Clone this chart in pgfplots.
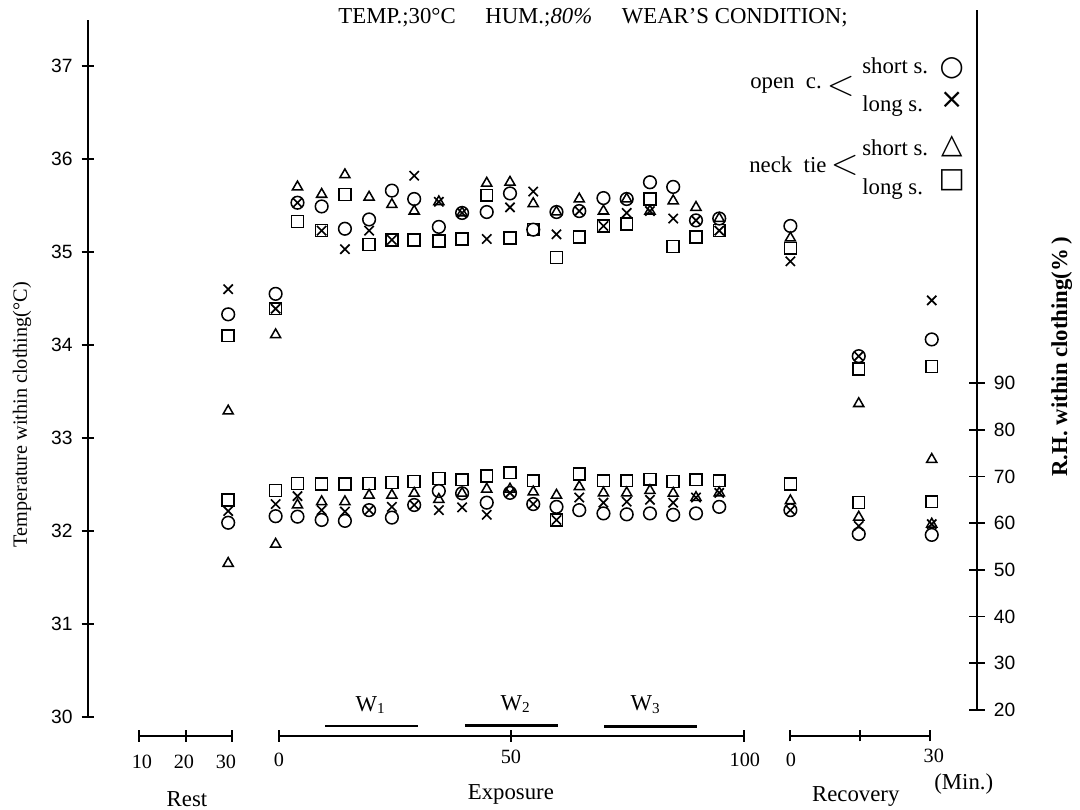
\documentclass[border=0pt]{standalone}
\usepackage{fontspec}
\setmainfont{Liberation Serif}
\newfontfamily\numfont{Liberation Sans}
\newfontfamily\symfont{DejaVu Sans}
\usepackage{pgfplots}
\usepackage{pgfplotstable}
\pgfplotsset{compat=1.18}

% Temperature within clothing (deg C): os=open c. short s., ol=open c. long s., ns=neck tie short s., nl=neck tie long s.
% x: rest minutes -40, exposure minutes, recovery minutes +110
\pgfplotstableread{
x     os     ol     ns     nl
-10.9 34.33  34.60  33.29  34.10
-0.7  34.55  34.39  34.11  34.39
4.0   35.53  35.53  35.70  35.33
9.2   35.49  35.23  35.62  35.23
14.2  35.25  35.03  35.83  35.62
19.4  35.35  35.23  35.59  35.08
24.3  35.66  35.13  35.51  35.13
29.1  35.57  35.82  35.44  35.13
34.4  35.27  35.54  35.54  35.12
39.4  35.42  35.42  35.42  35.14
44.7  35.43  35.14  35.74  35.61
49.7  35.63  35.48  35.75  35.15
54.7  35.24  35.65  35.52  35.24
59.7  35.43  35.19  35.43  34.94
64.6  35.44  35.44  35.57  35.16
69.8  35.58  35.28  35.44  35.28
74.8  35.57  35.42  35.57  35.30
79.8  35.75  35.44  35.44  35.57
84.8  35.70  35.36  35.55  35.06
89.7  35.34  35.34  35.48  35.16
94.7  35.36  35.23  35.36  35.23
110.0 35.28  34.90  35.15  35.04
124.7 33.88  33.88  33.37  33.74
140.4 34.06  34.48  32.77  33.77
}\temptab

% R.H. within clothing (%)
\pgfplotstableread{
x     os    ol    ns    nl
-10.9 60.1  62.6  51.4  65.0
-0.7  61.5  64.1  55.5  67.0
4.0   61.4  65.8  63.9  68.5
9.2   60.7  62.8  64.6  68.4
14.2  60.5  62.5  64.6  68.4
19.4  62.8  62.8  66.0  68.5
24.3  61.2  63.5  66.0  68.7
29.1  63.9  63.9  66.4  68.9
34.4  66.9  62.8  65.1  69.6
39.4  66.4  63.4  66.4  69.3
44.7  64.4  61.8  67.3  70.1
49.7  66.5  66.5  67.3  70.8
54.7  64.1  64.1  66.7  69.1
59.7  63.5  60.7  66.0  60.7
64.6  62.8  65.5  67.8  70.5
69.8  62.1  64.4  66.5  69.1
74.8  61.9  64.6  66.5  69.1
79.8  62.1  65.0  67.0  69.4
84.8  61.8  64.4  66.4  68.9
89.7  62.1  65.5  65.5  69.3
94.7  63.5  66.5  66.5  69.1
110.0 62.8  62.8  64.8  68.4
124.7 57.7  59.4  61.3  64.4
140.4 57.5  59.8  59.8  64.6
}\rhtab

\pgfplotsset{
  common/.style={
    scale only axis, width=12.347cm,
    xmin=-41.05, xmax=150.13,
    axis x line=none,
    clip=false,
    tick align=center,
    /pgf/number format/assume math mode=true,
    yticklabel style={font=\numfont\fontsize{7.6}{8}\selectfont},
    axis line style={-, line width=0.9pt},
    every tick/.style={line width=0.7pt, black},
  },
  mO/.style={only marks, mark=o, mark size=2.5pt, mark options={solid, line width=0.6pt}},
  mX/.style={only marks, mark=x, mark size=2.6pt, mark options={solid, line width=0.65pt}},
  mT/.style={only marks, mark=triangle, mark size=2.3pt, mark options={solid, line width=0.6pt}},
  mS/.style={only marks, mark=square, mark size=2.35pt, mark options={solid, line width=0.6pt}},
}

\newcommand{\tfont}{\fontsize{9}{10}\selectfont}

\begin{document}
\begin{tikzpicture}
\useasboundingbox (0,0) rectangle (15cm,11.25cm);

% Left axis: temperature
\begin{axis}[common,
  at={(1.2222cm,1.2917cm)}, anchor=south west,
  height=9.6875cm,
  ymin=30, ymax=37.5,
  axis y line*=left,
  ytick={30,31,...,37},
  major tick length=0.18cm,
]
\addplot[mO] table[x=x, y=os] {\temptab};
\addplot[mX] table[x=x, y=ol] {\temptab};
\addplot[mT] table[x=x, y=ns] {\temptab};
\addplot[mS] table[x=x, y=nl] {\temptab};

% segmented time axis
\draw[line width=0.8pt] (axis cs:-30,29.796) -- (axis cs:-10,29.796);
\draw[line width=0.8pt] (axis cs:0,29.796) -- (axis cs:100,29.796);
\draw[line width=0.8pt] (axis cs:110,29.800) -- (axis cs:140,29.800);
\draw[line width=0.8pt] (axis cs:-30,29.733) -- (axis cs:-30,29.859);
\draw[line width=0.8pt] (axis cs:-20,29.733) -- (axis cs:-20,29.859);
\draw[line width=0.8pt] (axis cs:-10,29.733) -- (axis cs:-10,29.859);
\draw[line width=0.8pt] (axis cs:0,29.733) -- (axis cs:0,29.859);
\draw[line width=0.8pt] (axis cs:50,29.733) -- (axis cs:50,29.859);
\draw[line width=0.8pt] (axis cs:100,29.733) -- (axis cs:100,29.859);
\draw[line width=0.8pt] (axis cs:110,29.737) -- (axis cs:110,29.863);
\draw[line width=0.8pt] (axis cs:125,29.737) -- (axis cs:125,29.863);
\draw[line width=0.8pt] (axis cs:140,29.737) -- (axis cs:140,29.863);
% work periods
\draw[line width=1pt] (axis cs:10,29.903) -- (axis cs:30,29.903);
\draw[line width=1pt] (axis cs:40,29.908) -- (axis cs:60,29.908);
\draw[line width=1pt] (axis cs:70,29.900) -- (axis cs:90,29.900);
\end{axis}

% Right axis: relative humidity
\begin{axis}[common,
  at={(1.2222cm,1.3889cm)}, anchor=south west,
  height=9.7222cm,
  ymin=20, ymax=169.9,
  axis y line*=right,
  ytick={20,30,...,90},
  major tick length=0.22cm,
]
\addplot[mO] table[x=x, y=os] {\rhtab};
\addplot[mX] table[x=x, y=ol] {\rhtab};
\addplot[mT] table[x=x, y=ns] {\rhtab};
\addplot[mS] table[x=x, y=nl] {\rhtab};
\end{axis}

% texts in pixel coordinates (origin top-left of the 1080x810 frame)
\begin{scope}[x=0.0138889cm, y=-0.0138889cm, shift={(0cm,11.25cm)}]
\node[font=\tfont, anchor=west, inner sep=0pt] at (338,18) {TEMP.;30°C\hspace{1.3em}HUM.;\textit{80\%}\hspace{1.3em}WEAR'S CONDITION;};
\node[rotate=90, font=\fontsize{8}{9}\selectfont, inner sep=0pt] at (22,415) {Temperature within clothing(°C)};
\node[rotate=90, font=\tfont\bfseries, inner sep=0pt] at (1062,357) {R.H. within clothing(\%\,)};
% legend
\node[font=\tfont, anchor=west, inner sep=0pt] at (750,86) {open\hspace{0.5em}c.};
\node[font=\fontsize{15}{15}\selectfont, inner sep=0pt] at (841,86) {$<$};
\node[font=\tfont, anchor=west, inner sep=0pt] at (862,66) {short s.};
\node[font=\tfont, anchor=west, inner sep=0pt] at (862,106) {long s.};
\node[font=\tfont, anchor=west, inner sep=0pt] at (749,165) {neck\hspace{0.5em}tie};
\node[font=\fontsize{15}{15}\selectfont, inner sep=0pt] at (845,165) {$<$};
\node[font=\tfont, anchor=west, inner sep=0pt] at (862,148) {short s.};
\node[font=\tfont, anchor=west, inner sep=0pt] at (862,189) {long s.};
\node[font=\symfont\fontsize{11}{11}\selectfont, inner sep=0pt] at (952,68) {○};
\node[font=\symfont\fontsize{11}{11}\selectfont, inner sep=0pt] at (952,100) {×};
\node[font=\symfont\fontsize{11}{11}\selectfont, inner sep=0pt] at (952,146) {△};
\node[font=\symfont\fontsize{11}{11}\selectfont, inner sep=0pt] at (952,180) {□};
% work labels
\node[font=\tfont, inner sep=0pt] at (371,705) {W\textsubscript{1}};
\node[font=\tfont, inner sep=0pt] at (516,704) {W\textsubscript{2}};
\node[font=\tfont, inner sep=0pt] at (646,705) {W\textsubscript{3}};
% time tick labels
\node[font=\fontsize{8}{9}\selectfont, inner sep=0pt] at (142,762) {10};
\node[font=\fontsize{8}{9}\selectfont, inner sep=0pt] at (184,762) {20};
\node[font=\fontsize{8}{9}\selectfont, inner sep=0pt] at (226,762) {30};
\node[font=\fontsize{8}{9}\selectfont, inner sep=0pt] at (279,760) {0};
\node[font=\fontsize{8}{9}\selectfont, inner sep=0pt] at (511,757) {50};
\node[font=\fontsize{8}{9}\selectfont, inner sep=0pt] at (745,760) {100};
\node[font=\fontsize{8}{9}\selectfont, inner sep=0pt] at (791,760) {0};
\node[font=\fontsize{8}{9}\selectfont, inner sep=0pt] at (934,756) {30};
\node[font=\tfont, inner sep=0pt] at (964,784) {(Min.)};
\node[font=\tfont, inner sep=0pt] at (187,799) {Rest};
\node[font=\tfont, inner sep=0pt] at (511,795) {Exposure};
\node[font=\tfont, inner sep=0pt] at (856,797) {Recovery};
\end{scope}
\end{tikzpicture}
\end{document}
